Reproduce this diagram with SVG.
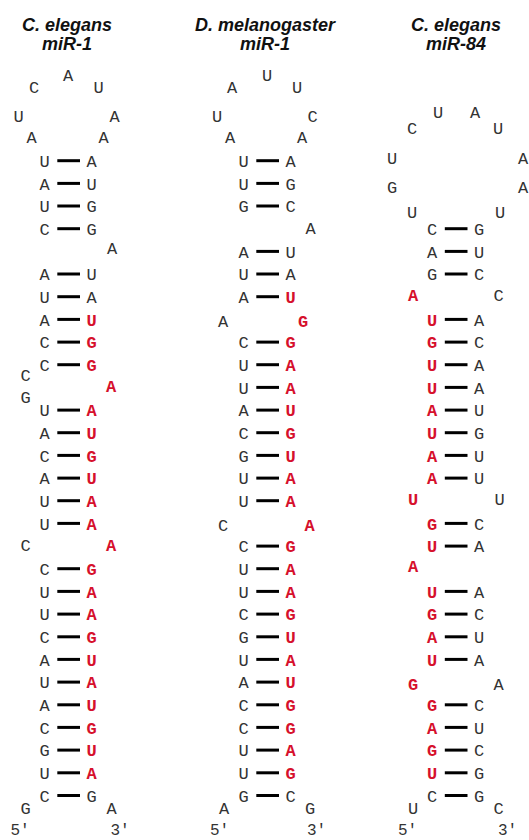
<svg xmlns="http://www.w3.org/2000/svg" width="529" height="840" viewBox="0 0 529 840">
<style>
text{font-family:"Liberation Mono","Courier New",monospace;font-size:17px;fill:#333;text-anchor:middle}
text.r{font-weight:bold;fill:#d6102c}
text.h{font-family:"Liberation Sans",Arial,sans-serif;font-size:18px;font-weight:bold;font-style:italic;fill:#111}
text.p{font-size:16px}
.bonds line{stroke:#000;stroke-width:3}
</style>
<rect width="529" height="840" fill="#fff"/>

<g id="cel-mir-1">
<text class="h" x="67" y="31">C. elegans</text>
<text class="h" x="67" y="50">miR-1</text>
<text x="68" y="80.7">A</text><text x="34" y="92.7">C</text><text x="98.5" y="92.7">U</text>
<text x="18.5" y="121.7">U</text><text x="114.5" y="121.7">A</text>
<text x="31.5" y="142.7">A</text><text x="103.5" y="142.7">A</text>
<text x="44.5" y="167">U</text><text x="91.5" y="167">A</text>
<text x="44.5" y="189.7">A</text><text x="91.5" y="189.7">U</text>
<text x="44.5" y="212.3">U</text><text x="91.5" y="212.3">G</text>
<text x="44.5" y="235">C</text><text x="91.5" y="235">G</text>
<text x="112" y="254">A</text>
<text x="44.5" y="280.3">A</text><text x="91.5" y="280.3">U</text>
<text x="44.5" y="303">U</text><text x="91.5" y="303">A</text>
<text x="44.5" y="325.7">A</text><text class="r" x="91.5" y="325.7">U</text>
<text x="44.5" y="348.4">C</text><text class="r" x="91.5" y="348.4">G</text>
<text x="44.5" y="371">C</text><text class="r" x="91.5" y="371">G</text>
<text x="25.5" y="380.7">C</text><text x="25.5" y="402.7">G</text>
<text class="r" x="111" y="392.4">A</text>
<text x="44.5" y="416.4">U</text><text class="r" x="91.5" y="416.4">A</text>
<text x="44.5" y="439">A</text><text class="r" x="91.5" y="439">U</text>
<text x="44.5" y="461.7">C</text><text class="r" x="91.5" y="461.7">G</text>
<text x="44.5" y="484.4">A</text><text class="r" x="91.5" y="484.4">U</text>
<text x="44.5" y="507">U</text><text class="r" x="91.5" y="507">A</text>
<text x="44.5" y="529.7">U</text><text class="r" x="91.5" y="529.7">A</text>
<text x="25.5" y="551.4">C</text><text class="r" x="111" y="551.4">A</text>
<text x="44.5" y="575">C</text><text class="r" x="91.5" y="575">G</text>
<text x="44.5" y="597.7">U</text><text class="r" x="91.5" y="597.7">A</text>
<text x="44.5" y="620.4">U</text><text class="r" x="91.5" y="620.4">A</text>
<text x="44.5" y="643.1">C</text><text class="r" x="91.5" y="643.1">G</text>
<text x="44.5" y="665.7">A</text><text class="r" x="91.5" y="665.7">U</text>
<text x="44.5" y="688.4">U</text><text class="r" x="91.5" y="688.4">A</text>
<text x="44.5" y="711.1">A</text><text class="r" x="91.5" y="711.1">U</text>
<text x="44.5" y="733.7">C</text><text class="r" x="91.5" y="733.7">G</text>
<text x="44.5" y="756.4">G</text><text class="r" x="91.5" y="756.4">U</text>
<text x="44.5" y="779.1">U</text><text class="r" x="91.5" y="779.1">A</text>
<text x="44.5" y="801.8">C</text><text x="91.5" y="801.8">G</text>
<text x="25.5" y="813.7">G</text><text x="111.5" y="813.7">A</text>
<text class="p" x="20" y="834.5">5′</text><text class="p" x="120" y="834.5">3′</text>
</g>

<g id="dme-mir-1" transform="translate(199,0)">
<text class="h" x="66" y="31">D. melanogaster</text>
<text class="h" x="66" y="50">miR-1</text>
<text x="68" y="80.7">U</text><text x="33" y="93.2">A</text><text x="98" y="92.7">U</text>
<text x="18" y="121.7">U</text><text x="113.5" y="121.7">C</text>
<text x="31" y="142.7">A</text><text x="103" y="142.7">A</text>
<text x="44.5" y="167">U</text><text x="91.5" y="167">A</text>
<text x="44.5" y="189.7">U</text><text x="91.5" y="189.7">G</text>
<text x="44.5" y="212.3">G</text><text x="91.5" y="212.3">C</text>
<text x="111.5" y="233.7">A</text>
<text x="44.5" y="257.7">A</text><text x="91.5" y="257.7">U</text>
<text x="44.5" y="280.3">U</text><text x="91.5" y="280.3">A</text>
<text x="44.5" y="303">A</text><text class="r" x="91.5" y="303">U</text>
<text x="24" y="327.4">A</text><text class="r" x="104" y="327.4">G</text>
<text x="44.5" y="348.4">C</text><text class="r" x="91.5" y="348.4">G</text>
<text x="44.5" y="371">U</text><text class="r" x="91.5" y="371">A</text>
<text x="44.5" y="393.7">U</text><text class="r" x="91.5" y="393.7">A</text>
<text x="44.5" y="416.4">A</text><text class="r" x="91.5" y="416.4">U</text>
<text x="44.5" y="439">C</text><text class="r" x="91.5" y="439">G</text>
<text x="44.5" y="461.7">G</text><text class="r" x="91.5" y="461.7">U</text>
<text x="44.5" y="484.4">U</text><text class="r" x="91.5" y="484.4">A</text>
<text x="44.5" y="507">U</text><text class="r" x="91.5" y="507">A</text>
<text x="24" y="530.7">C</text><text class="r" x="110.5" y="530.7">A</text>
<text x="44.5" y="552.4">C</text><text class="r" x="91.5" y="552.4">G</text>
<text x="44.5" y="575">U</text><text class="r" x="91.5" y="575">A</text>
<text x="44.5" y="597.7">U</text><text class="r" x="91.5" y="597.7">A</text>
<text x="44.5" y="620.4">C</text><text class="r" x="91.5" y="620.4">G</text>
<text x="44.5" y="643.1">G</text><text class="r" x="91.5" y="643.1">U</text>
<text x="44.5" y="665.7">U</text><text class="r" x="91.5" y="665.7">A</text>
<text x="44.5" y="688.4">A</text><text class="r" x="91.5" y="688.4">U</text>
<text x="44.5" y="711.1">C</text><text class="r" x="91.5" y="711.1">G</text>
<text x="44.5" y="733.7">C</text><text class="r" x="91.5" y="733.7">G</text>
<text x="44.5" y="756.4">U</text><text class="r" x="91.5" y="756.4">A</text>
<text x="44.5" y="779.1">U</text><text class="r" x="91.5" y="779.1">G</text>
<text x="44.5" y="801.8">G</text><text x="91.5" y="801.8">C</text>
<text x="25" y="813.7">A</text><text x="111" y="813.7">G</text>
<text class="p" x="20.5" y="834.5">5′</text><text class="p" x="117.5" y="834.5">3′</text>
</g>

<g id="cel-mir-84" transform="translate(387.5,0)">
<text class="h" x="68.5" y="31">C. elegans</text>
<text class="h" x="68.5" y="50">miR-84</text>
<text x="50.5" y="117.7">U</text><text x="87.5" y="117.7">A</text>
<text x="24.5" y="133.7">C</text><text x="110.5" y="133.7">U</text>
<text x="4.5" y="163.7">U</text><text x="135.5" y="163.7">A</text>
<text x="4.5" y="192.7">G</text><text x="135.5" y="192.7">A</text>
<text x="24.5" y="217.7">U</text><text x="112.5" y="217.7">U</text>
<text x="44.5" y="235">C</text><text x="91.5" y="235">G</text>
<text x="44.5" y="257.7">A</text><text x="91.5" y="257.7">U</text>
<text x="44.5" y="280.3">G</text><text x="91.5" y="280.3">C</text>
<text class="r" x="25.5" y="301.4">A</text><text x="111" y="301.4">C</text>
<text class="r" x="44.5" y="325.7">U</text><text x="91.5" y="325.7">A</text>
<text class="r" x="44.5" y="348.4">G</text><text x="91.5" y="348.4">C</text>
<text class="r" x="44.5" y="371">U</text><text x="91.5" y="371">A</text>
<text class="r" x="44.5" y="393.7">U</text><text x="91.5" y="393.7">A</text>
<text class="r" x="44.5" y="416.4">A</text><text x="91.5" y="416.4">U</text>
<text class="r" x="44.5" y="439">U</text><text x="91.5" y="439">G</text>
<text class="r" x="44.5" y="461.7">A</text><text x="91.5" y="461.7">U</text>
<text class="r" x="44.5" y="484.4">A</text><text x="91.5" y="484.4">U</text>
<text class="r" x="25.5" y="504.7">U</text><text x="112" y="504.7">U</text>
<text class="r" x="44.5" y="529.7">G</text><text x="91.5" y="529.7">C</text>
<text class="r" x="44.5" y="552.4">U</text><text x="91.5" y="552.4">A</text>
<text class="r" x="25.5" y="571.7">A</text>
<text class="r" x="44.5" y="597.7">U</text><text x="91.5" y="597.7">A</text>
<text class="r" x="44.5" y="620.4">G</text><text x="91.5" y="620.4">C</text>
<text class="r" x="44.5" y="643.1">A</text><text x="91.5" y="643.1">U</text>
<text class="r" x="44.5" y="665.7">U</text><text x="91.5" y="665.7">A</text>
<text class="r" x="25.5" y="689.7">G</text><text x="111" y="689.7">A</text>
<text class="r" x="44.5" y="711.1">G</text><text x="91.5" y="711.1">C</text>
<text class="r" x="44.5" y="733.7">A</text><text x="91.5" y="733.7">U</text>
<text class="r" x="44.5" y="756.4">G</text><text x="91.5" y="756.4">C</text>
<text class="r" x="44.5" y="779.1">U</text><text x="91.5" y="779.1">G</text>
<text x="44.5" y="801.8">C</text><text x="91.5" y="801.8">G</text>
<text x="25.5" y="813.7">U</text><text x="111" y="813.7">C</text>
<text class="p" x="20" y="834.5">5′</text><text class="p" x="120" y="834.5">3′</text>
</g>

<g id="connectors" class="bonds">
<g id="bonds-cel-mir-1">
<line x1="57.3" x2="80" y1="160.7" y2="160.7"/><line x1="57.3" x2="80" y1="183.4" y2="183.4"/><line x1="57.3" x2="80" y1="206" y2="206"/><line x1="57.3" x2="80" y1="228.7" y2="228.7"/>
<line x1="57.3" x2="80" y1="274" y2="274"/><line x1="57.3" x2="80" y1="296.7" y2="296.7"/><line x1="57.3" x2="80" y1="319.4" y2="319.4"/><line x1="57.3" x2="80" y1="342.1" y2="342.1"/><line x1="57.3" x2="80" y1="364.7" y2="364.7"/>
<line x1="57.3" x2="80" y1="410.1" y2="410.1"/><line x1="57.3" x2="80" y1="432.7" y2="432.7"/><line x1="57.3" x2="80" y1="455.4" y2="455.4"/><line x1="57.3" x2="80" y1="478.1" y2="478.1"/><line x1="57.3" x2="80" y1="500.7" y2="500.7"/><line x1="57.3" x2="80" y1="523.4" y2="523.4"/>
<line x1="57.3" x2="80" y1="568.7" y2="568.7"/><line x1="57.3" x2="80" y1="591.4" y2="591.4"/><line x1="57.3" x2="80" y1="614.1" y2="614.1"/><line x1="57.3" x2="80" y1="636.8" y2="636.8"/><line x1="57.3" x2="80" y1="659.4" y2="659.4"/><line x1="57.3" x2="80" y1="682.1" y2="682.1"/><line x1="57.3" x2="80" y1="704.8" y2="704.8"/><line x1="57.3" x2="80" y1="727.4" y2="727.4"/><line x1="57.3" x2="80" y1="750.1" y2="750.1"/><line x1="57.3" x2="80" y1="772.8" y2="772.8"/><line x1="57.3" x2="80" y1="795.5" y2="795.5"/>
</g>
<g id="bonds-dme-mir-1" transform="translate(199,0)">
<line x1="57.3" x2="80" y1="160.7" y2="160.7"/><line x1="57.3" x2="80" y1="183.4" y2="183.4"/><line x1="57.3" x2="80" y1="206" y2="206"/>
<line x1="57.3" x2="80" y1="251.4" y2="251.4"/><line x1="57.3" x2="80" y1="274" y2="274"/><line x1="57.3" x2="80" y1="296.7" y2="296.7"/>
<line x1="57.3" x2="80" y1="342.1" y2="342.1"/><line x1="57.3" x2="80" y1="364.7" y2="364.7"/><line x1="57.3" x2="80" y1="387.4" y2="387.4"/><line x1="57.3" x2="80" y1="410.1" y2="410.1"/><line x1="57.3" x2="80" y1="432.7" y2="432.7"/><line x1="57.3" x2="80" y1="455.4" y2="455.4"/><line x1="57.3" x2="80" y1="478.1" y2="478.1"/><line x1="57.3" x2="80" y1="500.7" y2="500.7"/>
<line x1="57.3" x2="80" y1="546.1" y2="546.1"/><line x1="57.3" x2="80" y1="568.7" y2="568.7"/><line x1="57.3" x2="80" y1="591.4" y2="591.4"/><line x1="57.3" x2="80" y1="614.1" y2="614.1"/><line x1="57.3" x2="80" y1="636.8" y2="636.8"/><line x1="57.3" x2="80" y1="659.4" y2="659.4"/><line x1="57.3" x2="80" y1="682.1" y2="682.1"/><line x1="57.3" x2="80" y1="704.8" y2="704.8"/><line x1="57.3" x2="80" y1="727.4" y2="727.4"/><line x1="57.3" x2="80" y1="750.1" y2="750.1"/><line x1="57.3" x2="80" y1="772.8" y2="772.8"/><line x1="57.3" x2="80" y1="795.5" y2="795.5"/>
</g>
<g id="bonds-cel-mir-84" transform="translate(387.5,0)">
<line x1="57.3" x2="80" y1="228.7" y2="228.7"/><line x1="57.3" x2="80" y1="251.4" y2="251.4"/><line x1="57.3" x2="80" y1="274" y2="274"/>
<line x1="57.3" x2="80" y1="319.4" y2="319.4"/><line x1="57.3" x2="80" y1="342.1" y2="342.1"/><line x1="57.3" x2="80" y1="364.7" y2="364.7"/><line x1="57.3" x2="80" y1="387.4" y2="387.4"/><line x1="57.3" x2="80" y1="410.1" y2="410.1"/><line x1="57.3" x2="80" y1="432.7" y2="432.7"/><line x1="57.3" x2="80" y1="455.4" y2="455.4"/><line x1="57.3" x2="80" y1="478.1" y2="478.1"/>
<line x1="57.3" x2="80" y1="523.4" y2="523.4"/><line x1="57.3" x2="80" y1="546.1" y2="546.1"/>
<line x1="57.3" x2="80" y1="591.4" y2="591.4"/><line x1="57.3" x2="80" y1="614.1" y2="614.1"/><line x1="57.3" x2="80" y1="636.8" y2="636.8"/><line x1="57.3" x2="80" y1="659.4" y2="659.4"/>
<line x1="57.3" x2="80" y1="704.8" y2="704.8"/><line x1="57.3" x2="80" y1="727.4" y2="727.4"/><line x1="57.3" x2="80" y1="750.1" y2="750.1"/><line x1="57.3" x2="80" y1="772.8" y2="772.8"/><line x1="57.3" x2="80" y1="795.5" y2="795.5"/>
</g>
</g>
</svg>
